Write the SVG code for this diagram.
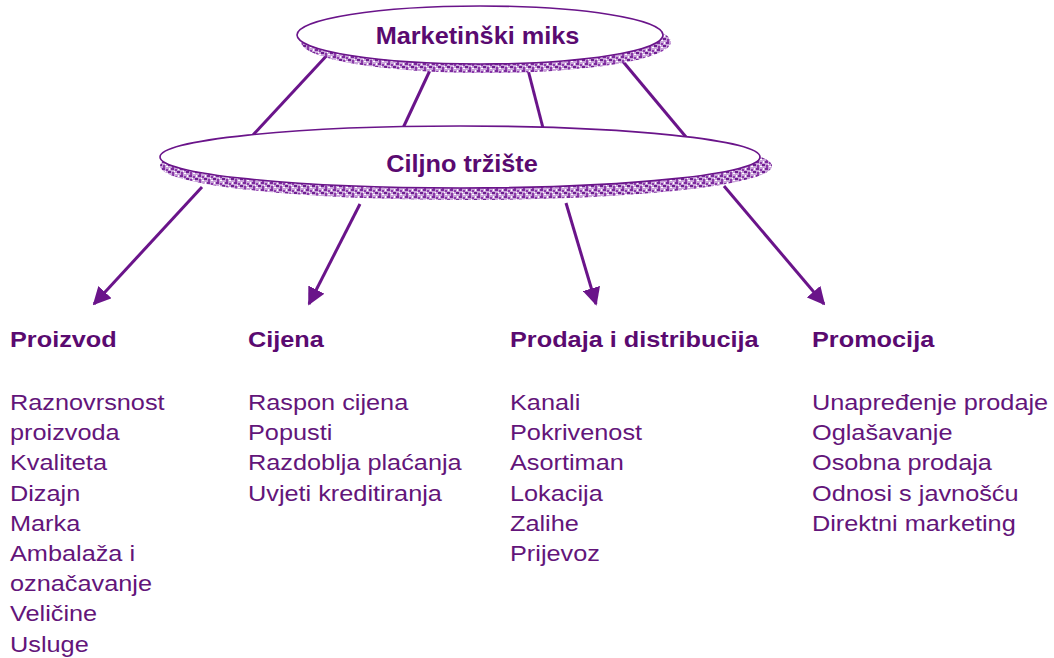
<svg xmlns="http://www.w3.org/2000/svg" width="1054" height="658" viewBox="0 0 1054 658">
<style>
.line{stroke:#6a148a;stroke-width:3;fill:none}
.ell{fill:#ffffff;stroke:#6a148a;stroke-width:1.6}
.rim{fill:url(#tex)}
.title{font-family:"Liberation Sans",Arial,sans-serif;font-weight:bold;font-size:23px;fill:#5a0a70}
.head{font-family:"Liberation Sans",Arial,sans-serif;font-weight:bold;font-size:22px;fill:#5a0a70}
.item{font-family:"Liberation Sans",Arial,sans-serif;font-size:22px;fill:#63157a}
</style>
<defs>
<pattern id="tex" width="9" height="7" patternUnits="userSpaceOnUse">
<rect width="9" height="7" fill="#c9a3d9"/>
<rect x="0" y="0" width="3" height="2" fill="#7b2a9c"/>
<rect x="4" y="1" width="2" height="2" fill="#8c3aab"/>
<rect x="6" y="3" width="3" height="2" fill="#6e1f90"/>
<rect x="1" y="4" width="2" height="3" fill="#8a3aa8"/>
<rect x="4" y="5" width="2" height="1" fill="#ffffff"/>
<rect x="7" y="0" width="1" height="2" fill="#ffffff"/>
<rect x="3" y="3" width="1" height="1" fill="#ffffff"/>
</pattern>
<marker id="arr" viewBox="0 0 10 10" refX="9" refY="5" markerWidth="6" markerHeight="6" markerUnits="strokeWidth" orient="auto">
<path d="M0,0 L10,5 L0,10 z" fill="#6a148a"/>
</marker>
</defs>
<g id="connectors">
<line class="line" x1="330" y1="52" x2="253" y2="135"/>
<line class="line" x1="432" y1="66" x2="403" y2="128"/>
<line class="line" x1="527" y1="66" x2="543" y2="128"/>
<line class="line" x1="620" y1="58" x2="686" y2="137"/>
<line class="line" x1="202" y1="187" x2="94" y2="304" marker-end="url(#arr)"/>
<line class="line" x1="360" y1="204" x2="309" y2="304" marker-end="url(#arr)"/>
<line class="line" x1="566" y1="203" x2="596" y2="304" marker-end="url(#arr)"/>
<line class="line" x1="724" y1="186" x2="824" y2="304" marker-end="url(#arr)"/>
</g>
<g id="node-marketinski-miks">
<ellipse class="rim" cx="486" cy="42" rx="185" ry="31"/>
<ellipse class="ell" cx="480" cy="35" rx="183" ry="29"/>
<text class="title" transform="translate(477.5,44) scale(1.1,1)" text-anchor="middle">Marketinški miks</text>
</g>
<g id="node-ciljno-trziste">
<ellipse class="rim" cx="466" cy="166" rx="306" ry="34"/>
<ellipse class="ell" cx="460" cy="157" rx="300" ry="31"/>
<text class="title" transform="translate(462,172) scale(1.1,1)" text-anchor="middle">Ciljno tržište</text>
</g>
<g id="node-proizvod" transform="translate(10,0) scale(1.15,1)">
<text class="head" y="347">Proizvod</text>
<text class="item" y="410">Raznovrsnost</text>
<text class="item" y="440">proizvoda</text>
<text class="item" y="470">Kvaliteta</text>
<text class="item" y="501">Dizajn</text>
<text class="item" y="531">Marka</text>
<text class="item" y="561">Ambalaža i</text>
<text class="item" y="591">označavanje</text>
<text class="item" y="621">Veličine</text>
<text class="item" y="652">Usluge</text>
</g>
<g id="node-cijena" transform="translate(248,0) scale(1.15,1)">
<text class="head" y="347">Cijena</text>
<text class="item" y="410">Raspon cijena</text>
<text class="item" y="440">Popusti</text>
<text class="item" y="470">Razdoblja plaćanja</text>
<text class="item" y="501">Uvjeti kreditiranja</text>
</g>
<g id="node-prodaja" transform="translate(510,0) scale(1.15,1)">
<text class="head" y="347">Prodaja i distribucija</text>
<text class="item" y="410">Kanali</text>
<text class="item" y="440">Pokrivenost</text>
<text class="item" y="470">Asortiman</text>
<text class="item" y="501">Lokacija</text>
<text class="item" y="531">Zalihe</text>
<text class="item" y="561">Prijevoz</text>
</g>
<g id="node-promocija" transform="translate(812,0) scale(1.15,1)">
<text class="head" y="347">Promocija</text>
<text class="item" y="410">Unapređenje prodaje</text>
<text class="item" y="440">Oglašavanje</text>
<text class="item" y="470">Osobna prodaja</text>
<text class="item" y="501">Odnosi s javnošću</text>
<text class="item" y="531">Direktni marketing</text>
</g>
</svg>
